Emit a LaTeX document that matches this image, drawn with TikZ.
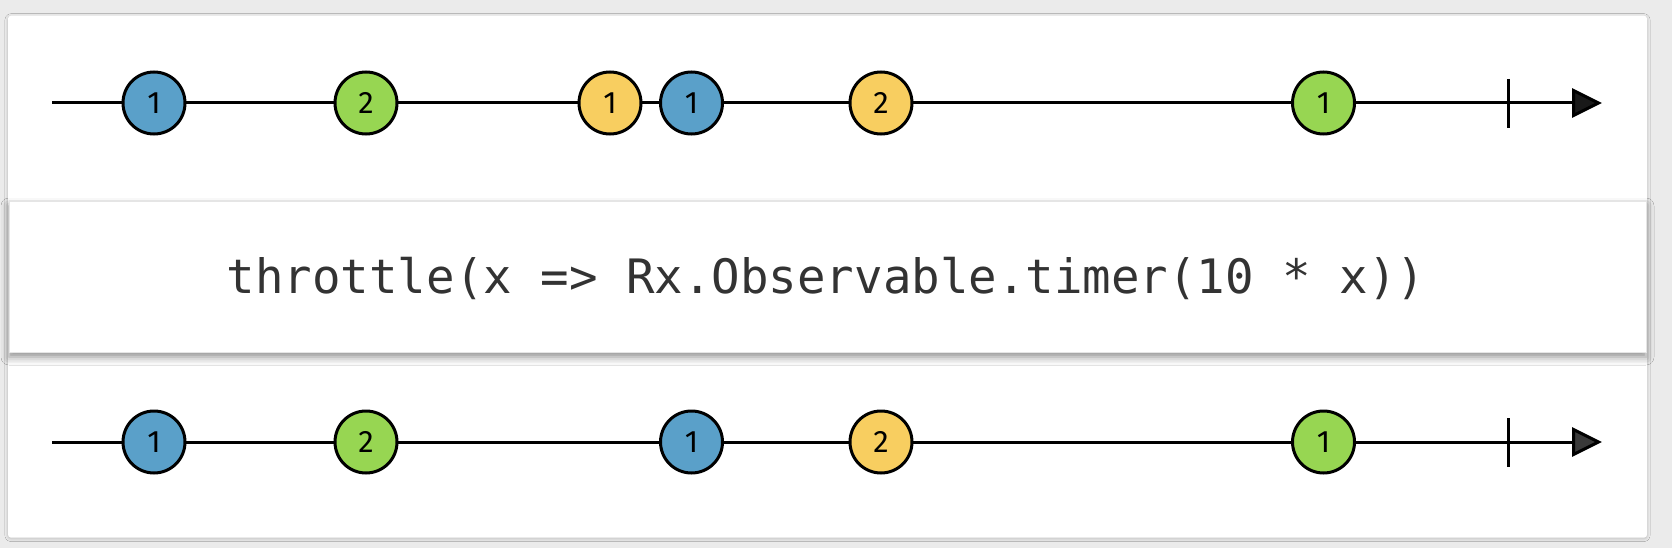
\documentclass[tikz,border=0pt]{standalone}
\usepackage{fontspec}
\usetikzlibrary{arrows.meta,shadows.blur}
\newfontfamily\codefont{DejaVu Sans Mono}
\newfontfamily\marblefont{Fira Sans}
\definecolor{bgray}{RGB}{235,235,235}
\definecolor{mblue}{RGB}{90,160,201}
\definecolor{mgreen}{RGB}{151,214,82}
\definecolor{myellow}{RGB}{248,206,96}
\definecolor{codegray}{RGB}{51,51,51}
\tikzset{
  marble/.style={circle, draw=black, line width=3pt, minimum size=62pt, inner sep=0pt,
    font=\marblefont\fontsize{31}{32}\selectfont},
  timeline/.style={line width=3pt, -{Triangle[length=30pt,width=29pt]}},
  endtick/.style={line width=3pt},
  card/.style={fill=white, rounded corners=3pt,
    blur shadow={shadow xshift=0pt, shadow yshift=-1pt, shadow blur radius=3pt, shadow opacity=20}},
  opbox/.style={fill=white, draw=black!10, line width=1pt,
    blur shadow={shadow xshift=0pt, shadow yshift=-5pt, shadow blur radius=8pt, shadow opacity=45}},
}
\begin{document}
\begin{tikzpicture}[x=1pt,y=-1pt]
\useasboundingbox (0,0) rectangle (1672,548);
\fill[bgray] (0,0) rectangle (1672,548);
% card
\path[card] (8,15.7) rectangle (1647,537.6);

% top timeline
\coordinate (ts) at (52,103);
\coordinate (te) at (1602,103);
\coordinate (tk1) at (1508,79);
\coordinate (tk2) at (1508,128);
\draw[timeline] (ts) -- (te);
\draw[endtick] (tk1) -- (tk2);
\node[marble, fill=mblue]   (t1) at (154,103) {1};
\node[marble, fill=mgreen]  (t2) at (366,103) {2};
\node[marble, fill=myellow] (t3) at (610,103) {1};
\node[marble, fill=mblue]   (t4) at (691.5,103) {1};
\node[marble, fill=myellow] (t5) at (881,103) {2};
\node[marble, fill=mgreen]  (t6) at (1323.5,103) {1};

% operator box
\path[opbox] (9,201) rectangle (1646,352);
\node[anchor=base, text=codegray, inner sep=0pt,
  font=\codefont\fontsize{47.4}{50}\selectfont] (op) at (826,293)
  {throttle(x => Rx.Observable.timer(10 * x))};

% bottom timeline
\coordinate (bs) at (52,442);
\coordinate (be) at (1602,442);
\coordinate (bk1) at (1508,418);
\coordinate (bk2) at (1508,467);
\draw[timeline] (bs) -- (be);
\draw[endtick] (bk1) -- (bk2);
\node[marble, fill=mblue]   (b1) at (154,442) {1};
\node[marble, fill=mgreen]  (b2) at (366,442) {2};
\node[marble, fill=mblue]   (b3) at (691.5,442) {1};
\node[marble, fill=myellow] (b4) at (881,442) {2};
\node[marble, fill=mgreen]  (b5) at (1323.5,442) {1};
\end{tikzpicture}
\end{document}
